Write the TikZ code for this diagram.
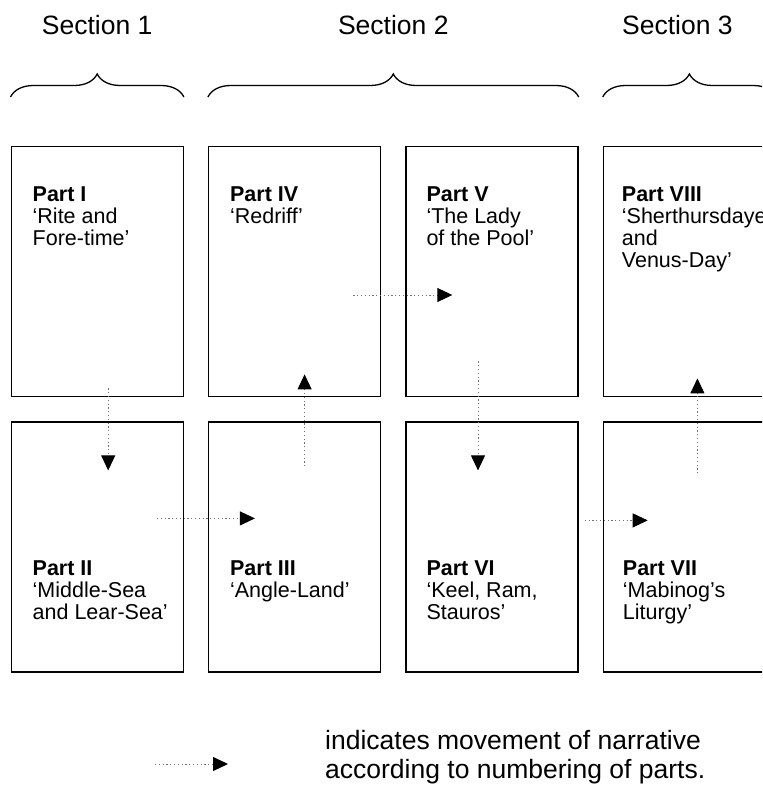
\documentclass[tikz,border=0pt]{standalone}
\usepackage{fontspec}
\setmainfont{Liberation Sans}
\usepackage{tikz}
\usetikzlibrary{arrows.meta, positioning, calc, decorations.pathreplacing}

\begin{document}
\begin{tikzpicture}[x=1pt, y=1pt,
  partbox/.style={draw, line width=1.4pt, minimum width=172pt, minimum height=250pt, inner sep=0pt},
  parttext/.style={anchor=north west, align=left, inner sep=0pt, font=\fontsize{21.5}{22}\selectfont},
  seclabel/.style={anchor=base, inner sep=0pt, font=\fontsize{26.5}{31}\selectfont},
  secbrace/.style={decorate, decoration={brace, amplitude=23pt}, line width=1.3pt},
  flow/.style={draw=black!55, line width=0.9pt, dash pattern=on 1.2pt off 2.6pt, -{Triangle[length=15pt, width=14pt, color=black]}}]
\useasboundingbox (0,0) rectangle (762,-791);
\clip (0,0) rectangle (762,-791);
% the eight parts
\node[partbox, anchor=north west] (p1) at (10.5,-146) {};
\node[partbox, right=24pt of p1] (p4) {};
\node[partbox, right=24pt of p4] (p5) {};
\node[partbox, right=24pt of p5] (p8) {};
\node[partbox, below=24pt of p1] (p2) {};
\node[partbox, below=24pt of p4] (p3) {};
\node[partbox, below=24pt of p5] (p6) {};
\node[partbox, below=24pt of p8] (p7) {};
\node[parttext] (t1) at ([xshift=22, yshift=-41]p1.north west) {\textbf{Part I}\\`Rite and\\Fore-time'};
\node[parttext] (t4) at ([xshift=22, yshift=-41]p4.north west) {\textbf{Part IV}\\`Redriff'};
\node[parttext] (t5) at ([xshift=21, yshift=-41]p5.north west) {\textbf{Part V}\\`The Lady\\of the Pool'};
\node[parttext] (t8) at ([xshift=19, yshift=-41]p8.north west) {\textbf{Part VIII}\\`Sherthursdaye\\and\\Venus-Day'};
\node[parttext] (t2) at ([xshift=22, yshift=-139]p2.north west) {\textbf{Part II}\\`Middle-Sea\\and Lear-Sea'};
\node[parttext] (t3) at ([xshift=22, yshift=-139]p3.north west) {\textbf{Part III}\\`Angle-Land'};
\node[parttext] (t6) at ([xshift=21, yshift=-139]p6.north west) {\textbf{Part VI}\\`Keel, Ram,\\Stauros'};
\node[parttext] (t7) at ([xshift=20, yshift=-139]p7.north west) {\textbf{Part VII}\\`Mabinog's\\Liturgy'};
% sections
\draw[secbrace] ([yshift=49]p1.north west) -- ([yshift=49]p1.north east);
\draw[secbrace] ([yshift=49]p4.north west) -- ([yshift=49]p5.north east);
\draw[secbrace] ([yshift=49]p8.north west) -- ([yshift=49]p8.north east);
\node[seclabel] (s1) at ([yshift=111]p1.north) {Section 1};
\node[seclabel] (s2) at ($(p4.north)!0.5!(p5.north)+(0,111)$) {Section 2};
\node[seclabel] (s3) at ([xshift=-12, yshift=111]p8.north) {Section 3};
% movement of narrative
\draw[flow] ([xshift=11, yshift=9]p1.south) -- ([xshift=11, yshift=-49]p2.north);
\draw[flow] ([xshift=-27, yshift=-97]p2.north east) -- ([xshift=47, yshift=-97]p3.north west);
\draw[flow] ([xshift=10, yshift=-45]p3.north) -- ([xshift=10, yshift=23]p4.south);
\draw[flow] ([xshift=-28, yshift=-149]p4.north east) -- ([xshift=47, yshift=-149]p5.north west);
\draw[flow] ([xshift=-14, yshift=36]p5.south) -- ([xshift=-14, yshift=-49]p6.north);
\draw[flow] ([xshift=6, yshift=-99]p6.north east) -- ([xshift=45, yshift=-99]p7.north west);
\draw[flow] ([xshift=8, yshift=-52]p7.north) -- ([xshift=8, yshift=19]p8.south);
% legend
\node[anchor=base west, align=left, inner sep=0pt, font=\fontsize{26.5}{29}\selectfont] (leg) at (325,-778) {indicates movement of narrative\\according to numbering of parts.};
\coordinate (legfrom) at (155,-764);
\coordinate (legto) at (228,-764);
\draw[flow] (legfrom) -- (legto);
\end{tikzpicture}
\end{document}
